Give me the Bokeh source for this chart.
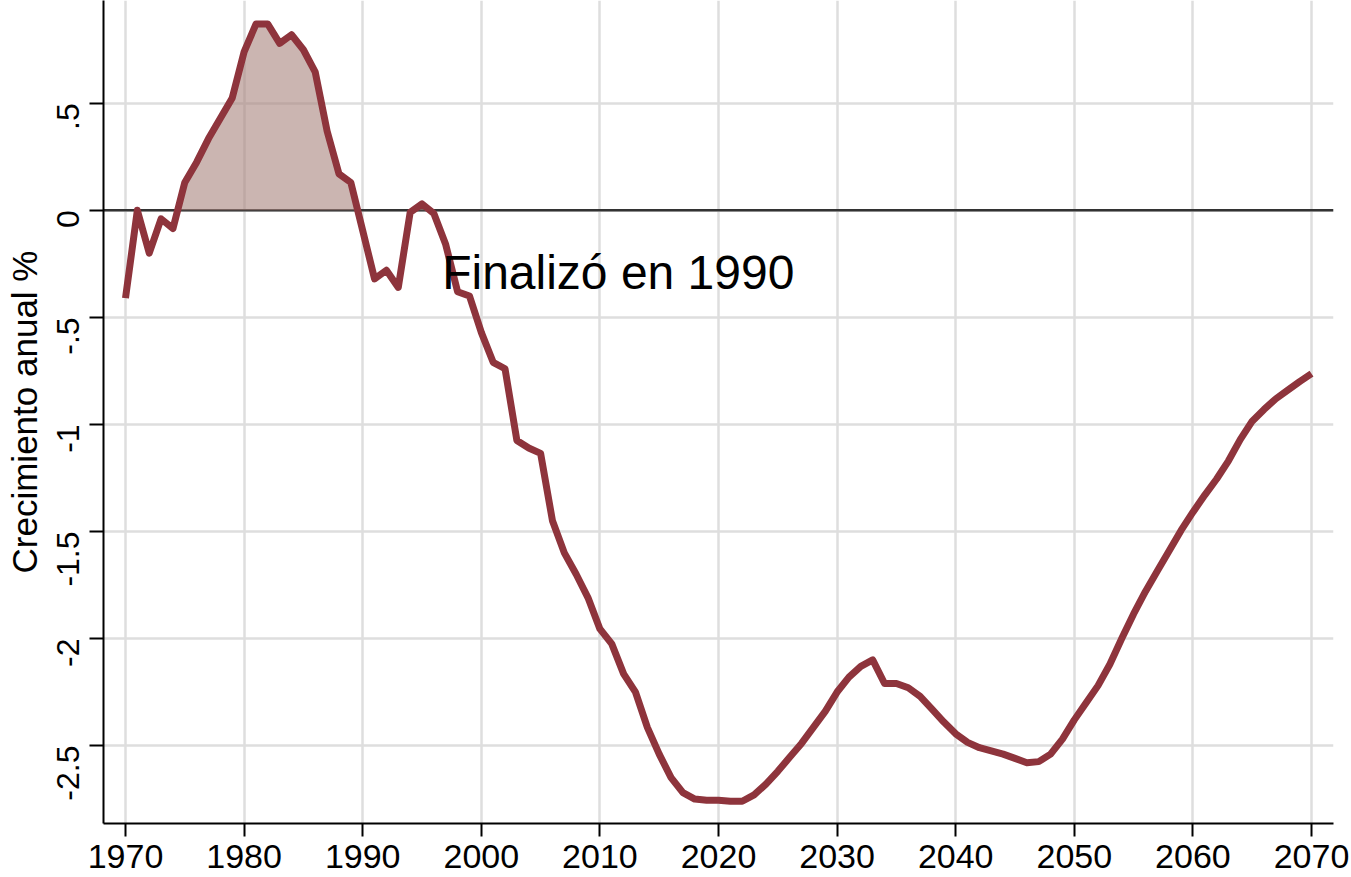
from bokeh.plotting import figure
from bokeh.models import Range1d, FixedTicker, Span
from bokeh.embed import file_html
from bokeh.resources import INLINE
from bokeh.core.properties import value
import numpy as np

years = list(range(1970, 2071))
growth = [
    -0.41, 0.00, -0.20, -0.04, -0.085, 0.13, 0.225, 0.335, 0.43, 0.525,   # 1970-1979
    0.74, 0.87, 0.87, 0.78, 0.82, 0.75, 0.645, 0.37, 0.17, 0.13,           # 1980-1989
    -0.095, -0.32, -0.28, -0.36, -0.01, 0.03, -0.015, -0.16, -0.38, -0.40, # 1990-1999
    -0.57, -0.71, -0.74, -1.075, -1.11, -1.135, -1.45, -1.60, -1.70, -1.81,  # 2000-2009
    -1.955, -2.025, -2.165, -2.25, -2.415, -2.54, -2.65, -2.72, -2.75, -2.755,  # 2010-2019
    -2.755, -2.76, -2.76, -2.73, -2.68, -2.62, -2.555, -2.49, -2.415, -2.34,   # 2020-2029
    -2.25, -2.18, -2.13, -2.10, -2.21, -2.21, -2.23, -2.27, -2.33, -2.39,      # 2030-2039
    -2.445, -2.485, -2.51, -2.525, -2.54, -2.56, -2.58, -2.575, -2.54, -2.47,  # 2040-2049
    -2.38, -2.30, -2.22, -2.12, -2.00, -1.885, -1.78, -1.685, -1.59, -1.495,   # 2050-2059
    -1.41, -1.33, -1.255, -1.17, -1.07, -0.985, -0.93, -0.88, -0.84, -0.80,    # 2060-2069
    -0.763,                                                                    # 2070
]
x_ticks = [1970, 1980, 1990, 2000, 2010, 2020, 2030, 2040, 2050, 2060, 2070]
y_ticks = [-2.5, -2.0, -1.5, -1.0, -0.5, 0.0, 0.5]
y_tick_labels = ["-2.5", "-2", "-1.5", "-1", "-.5", "0", ".5"]
y_label = "Crecimiento anual %"
annotation_text = "Finalizó en 1990"
annotation_x = 1996.7
annotation_y = -0.29

FONT = "Liberation Sans"
LINE_COLOR = "#8E343C"

p = figure(
    width=1350, height=877,
    output_backend="svg", toolbar_location=None,
    x_range=Range1d(1968.145, 2071.855),
    y_range=Range1d(-2.864, 0.98),
    min_border_left=103, min_border_right=17,
    min_border_top=0, min_border_bottom=54,
)
p.outline_line_color = None
p.background_fill_color = "white"
p.border_fill_color = "white"

# grids
p.xgrid.ticker = FixedTicker(ticks=x_ticks)
p.ygrid.ticker = FixedTicker(ticks=y_ticks)
for g in (p.xgrid, p.ygrid):
    g.grid_line_color = "#DEDEDE"
    g.grid_line_width = 2.5

# zero line (under the fill)
zero = Span(location=0, dimension="width", line_color="#333333",
            line_width=2.5, level="underlay")
p.add_layout(zero)

# positive area fill
yr = np.array(years, dtype=float)
gv = np.array(growth, dtype=float)
xs = np.linspace(yr[0], yr[-1], int((yr[-1] - yr[0]) * 100) + 1)
ys = np.interp(xs, yr, gv)
p.varea(x=xs, y1=np.zeros_like(xs), y2=np.clip(ys, 0, None),
        fill_color="#A8847D", fill_alpha=0.6)

# main line
p.line(years, growth, line_color=LINE_COLOR, line_width=7, line_join="round")

# annotation
p.text(x=[annotation_x], y=[annotation_y], text=[annotation_text],
       text_font=value(FONT), text_font_size="48px", text_color="black",
       text_align="left", text_baseline="middle")

# axes
p.xaxis.ticker = FixedTicker(ticks=x_ticks)
p.yaxis.ticker = FixedTicker(ticks=y_ticks)
p.yaxis.major_label_overrides = {t: l for t, l in zip(y_ticks, y_tick_labels)}
p.yaxis.major_label_orientation = np.pi / 2
for ax in (p.xaxis, p.yaxis):
    ax.axis_line_color = "black"
    ax.axis_line_width = 2
    ax.major_tick_line_color = "black"
    ax.major_tick_line_width = 2
    ax.major_tick_in = 0
    ax.minor_tick_line_color = None
    ax.major_label_text_font = FONT
    ax.major_label_text_color = "black"
p.xaxis.major_tick_out = 13
p.yaxis.major_tick_out = 14
p.xaxis.major_label_text_font_size = "34px"
p.yaxis.major_label_text_font_size = "32px"
p.xaxis.major_label_standoff = 8
p.yaxis.major_label_standoff = 21
p.yaxis.axis_label = y_label
p.yaxis.axis_label_text_font = FONT
p.yaxis.axis_label_text_font_size = "35px"
p.yaxis.axis_label_text_font_style = "normal"
p.yaxis.axis_label_text_color = "black"
p.yaxis.axis_label_standoff = 0

open("out.html", "w").write(file_html(p, INLINE))
